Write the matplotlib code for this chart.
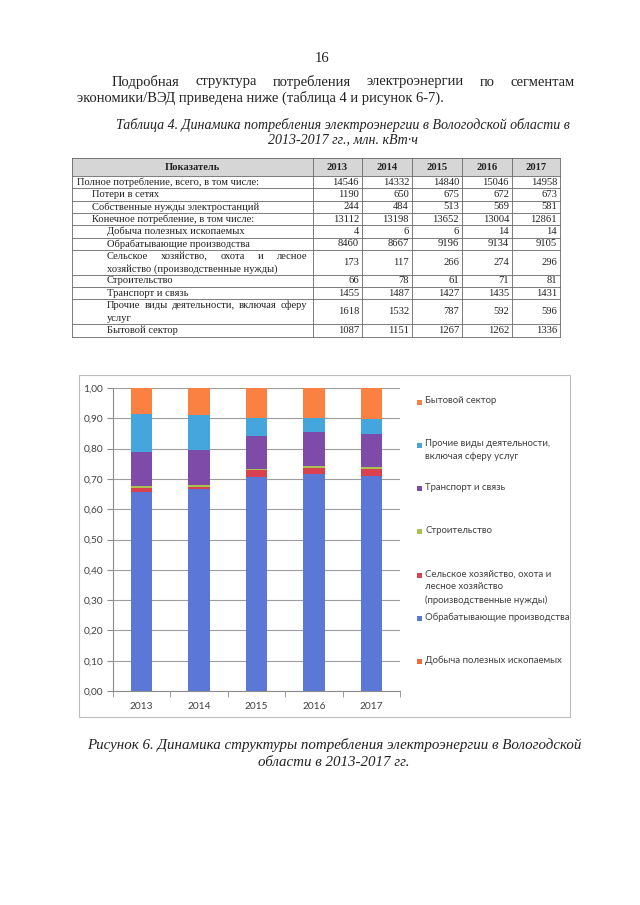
import numpy as np
import matplotlib.pyplot as plt
from matplotlib.patches import Rectangle

years = ['2013', '2014', '2015', '2016', '2017']

# table 4, mln kWh
total = [14546, 14332, 14840, 15046, 14958]
losses = [1190, 650, 675, 672, 673]
own_needs = [244, 484, 513, 569, 581]
final = [13112, 13198, 13652, 13004, 12861]
mining = [4, 6, 6, 14, 14]
manufacturing = [8460, 8667, 9196, 9134, 9105]
agriculture = [173, 117, 266, 274, 296]
construction = [66, 78, 61, 71, 81]
transport = [1455, 1487, 1427, 1435, 1431]
other = [1618, 1532, 787, 592, 596]
household = [1087, 1151, 1267, 1262, 1336]

row_labels = [
    'Полное потребление, всего, в том числе:',
    'Потери в сетях',
    'Собственные нужды электростанций',
    'Конечное потребление, в том числе:',
    'Добыча полезных ископаемых',
    'Обрабатывающие производства',
    'Сельское хозяйство, охота и лесное\nхозяйство (производственные нужды)',
    'Строительство',
    'Транспорт и связь',
    'Прочие виды деятельности, включая сферу\nуслуг',
    'Бытовой сектор',
]
row_indent = [0, 1, 1, 1, 2, 2, 2, 2, 2, 2, 2]
row_values = [total, losses, own_needs, final, mining, manufacturing,
              agriculture, construction, transport, other, household]

# chart series (bottom to top)
series_names = [
    'Добыча полезных ископаемых',
    'Обрабатывающие производства',
    'Сельское хозяйство, охота и\nлесное хозяйство\n(производственные нужды)',
    'Строительство',
    'Транспорт и связь',
    'Прочие виды деятельности,\nвключая сферу услуг',
    'Бытовой сектор',
]
series_values = [mining, manufacturing, agriculture, construction, transport, other, household]
series_colors = ['#f26b3a', '#5b78d6', '#d9414e', '#a8c34f', '#7f4ba8', '#45a5dd', '#fb8142']

SERIF = 'Liberation Serif'
SANS = 'Lato'
INK = '#222222'

fig = plt.figure(figsize=(6.4, 9.05), dpi=100)
pg = fig.add_axes([0, 0, 1, 1])
pg.set_xlim(0, 640)
pg.set_ylim(905, 0)
pg.axis('off')
renderer = fig.canvas.get_renderer()


def justify(words, x0, x1, y, **kw):
    texts = [pg.text(x0, y, w, va='center', ha='left', **kw) for w in words]
    widths = [t.get_window_extent(renderer).width for t in texts]
    gap = (x1 - x0 - sum(widths)) / (len(words) - 1)
    x = x0
    for t, w in zip(texts, widths):
        t.set_x(x)
        x += w + gap


# page text
pg.text(322, 58, '16', ha='center', va='center', family=SERIF, fontsize=10.5, color=INK)
justify('Подробная структура потребления электроэнергии по сегментам'.split(),
        112, 575, 82, family=SERIF, fontsize=10.5, color=INK)
pg.text(77, 98, 'экономики/ВЭД приведена ниже (таблица 4 и рисунок 6-7).',
        va='center', family=SERIF, fontsize=10.5, color=INK)
pg.text(343, 125, 'Таблица 4. Динамика потребления электроэнергии в Вологодской области в',
        ha='center', va='center', family=SERIF, style='italic', fontsize=10.1, color=INK)
pg.text(343, 140, '2013-2017 гг., млн. кВт·ч',
        ha='center', va='center', family=SERIF, style='italic', fontsize=10.1, color=INK)

# table
col_x = [72, 313, 362, 412, 462, 512, 560]
head_top, head_bot = 158, 176
unit = 12.35
row_h = [unit * (lab.count('\n') + 1) for lab in row_labels]
row_y = head_bot + np.concatenate([[0], np.cumsum(row_h)])
line_kw = dict(color='#666666', lw=0.6)

pg.add_patch(Rectangle((col_x[0], head_top), col_x[-1] - col_x[0], head_bot - head_top,
                       facecolor='#d6d6d6', edgecolor='none'))
for yy in [head_top, head_bot] + list(row_y[1:]):
    pg.plot([col_x[0], col_x[-1]], [yy, yy], **line_kw)
for xx in col_x:
    pg.plot([xx, xx], [head_top, row_y[-1]], **line_kw)

tfs = 7.6
head_mid = (head_top + head_bot) / 2
pg.text((col_x[0] + col_x[1]) / 2, head_mid, 'Показатель', ha='center', va='center',
        family=SERIF, weight='bold', fontsize=tfs, color=INK)
for j, yr in enumerate(years):
    pg.text((col_x[j + 1] + col_x[j + 2]) / 2, head_mid, yr, ha='center', va='center',
            family=SERIF, weight='bold', fontsize=tfs, color=INK)

indent_x = [77, 92, 107]
for i, lab in enumerate(row_labels):
    top = row_y[i]
    lines = lab.split('\n')
    for k, line in enumerate(lines):
        yy = top + unit * (k + 0.5)
        if len(lines) > 1 and k == 0:
            justify(line.split(), indent_x[row_indent[i]], col_x[1] - 6, yy,
                    family=SERIF, fontsize=tfs, color=INK)
        else:
            pg.text(indent_x[row_indent[i]], yy, line, va='center',
                    family=SERIF, fontsize=tfs, color=INK)
    mid = top + row_h[i] / 2
    for j, v in enumerate(row_values[i]):
        pg.text(col_x[j + 2] - 3, mid, str(v), ha='right', va='center',
                family=SERIF, fontsize=tfs, color=INK)

# chart frame
pg.add_patch(Rectangle((79, 375), 570 - 79, 717 - 375, facecolor='white',
                       edgecolor='#bdbdbd', lw=0.8))

# stacked share chart
ax = fig.add_axes([113 / 640, 1 - 691 / 905, 287 / 640, 303 / 905])
vals = np.array(series_values, dtype=float)
shares = vals / vals.sum(axis=0)
x = np.arange(len(years))
bottom = np.zeros(len(years))
for s, color in zip(shares, series_colors):
    ax.bar(x, s, bottom=bottom, width=0.37, color=color, zorder=3)
    bottom += s

ax.set_xlim(-0.5, len(years) - 0.5)
ax.set_ylim(0, 1.0)
yt = np.linspace(0, 1, 11)
ax.set_yticks(yt)
ax.set_yticklabels([f'{v:.2f}'.replace('.', ',') for v in yt])
ax.set_xticks(x)
ax.set_xticklabels(years)
ax.set_xticks(np.arange(-0.5, len(years)), minor=True)
ax.tick_params(axis='x', which='major', length=0, pad=8)
ax.tick_params(axis='x', which='minor', length=4, color='#8c8c8c', direction='out')
ax.tick_params(axis='y', length=4, color='#8c8c8c', pad=3)
ax.tick_params(labelsize=7.3, labelcolor='#404040')
for lbl in ax.get_xticklabels() + ax.get_yticklabels():
    lbl.set_family(SANS)
ax.grid(axis='y', color='#9e9e9e', lw=0.8, zorder=0)
for side in ['top', 'right']:
    ax.spines[side].set_visible(False)
for side in ['left', 'bottom']:
    ax.spines[side].set_color('#8c8c8c')
    ax.spines[side].set_linewidth(0.8)

# legend, last series on top
for i, (name, color) in enumerate(zip(series_names[::-1], series_colors[::-1])):
    yy = 402 + 43.3 * i
    pg.add_patch(Rectangle((417, yy - 2.5), 5, 5, facecolor=color, edgecolor='none'))
    pg.text(425, yy - 6, name, va='top', ha='left', family=SANS, fontsize=6.95,
            color='#404040', linespacing=1.55)

pg.text(334, 745, 'Рисунок 6. Динамика структуры потребления электроэнергии в Вологодской',
        ha='center', va='center', family=SERIF, style='italic', fontsize=10.8, color=INK)
pg.text(334, 762, 'области в 2013-2017 гг.',
        ha='center', va='center', family=SERIF, style='italic', fontsize=10.8, color=INK)

fig.savefig('out.png', dpi=100)
